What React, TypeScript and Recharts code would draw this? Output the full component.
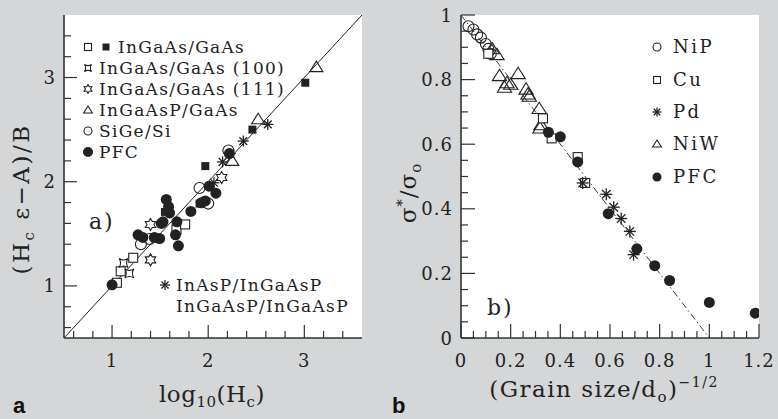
import React from "react";
import { ScatterChart, Scatter, XAxis, YAxis, CartesianGrid, ReferenceLine } from "recharts";

type Pt = [number, number];

// ---- panel a: (Hc eps - A)/B vs log10(Hc) ----
const inGaAsOpen: Pt[] = [[1.05, 1.03], [1.09, 1.14], [1.22, 1.27], [1.67, 1.54], [1.76, 1.59]];
const inGaAsFilled: Pt[] = [[1.55, 1.71], [1.91, 1.79], [1.97, 2.15], [2.46, 2.5], [3.01, 2.95]];
const inGaAs100: Pt[] = [[1.12, 1.22], [1.18, 1.12]];
const inGaAs111: Pt[] = [[1.4, 1.59], [1.4, 1.25], [2.14, 2.04]];
const inGaAsP: Pt[] = [[2.25, 2.2], [2.52, 2.6], [3.125, 3.1]];
const siGe: Pt[] = [[1.3, 1.4], [1.39, 1.45], [1.91, 1.94], [2.0, 1.79], [2.21, 2.3]];
const inAsP: Pt[] = [[2.06, 1.99], [2.15, 2.19], [2.23, 2.27], [2.365, 2.39], [2.62, 2.55]];
const pfcA: Pt[] = [
  [1.0, 1.01], [1.27, 1.49], [1.32, 1.465], [1.44, 1.465], [1.495, 1.455], [1.512, 1.6],
  [1.53, 1.615], [1.564, 1.83], [1.588, 1.76], [1.598, 1.7], [1.66, 1.49], [1.674, 1.615],
  [1.69, 1.385], [1.82, 1.715], [1.927, 1.797], [1.97, 1.816], [2.01, 1.957], [2.08, 1.89],
  [2.22, 2.27],
];
const domainA: [number, number] = [0.5, 3.6];
const ticksA = [0.6, 0.8, 1, 1.2, 1.4, 1.6, 1.8, 2, 2.2, 2.4, 2.6, 2.8, 3, 3.2, 3.4];
const majorA = [1, 2, 3];

// ---- panel b: sigma*/sigma0 vs (grain size/d0)^-1/2 ----
const niP: Pt[] = [[0.03, 0.965], [0.05, 0.955], [0.065, 0.94], [0.08, 0.93], [0.1, 0.91], [0.11, 0.895], [0.12, 0.88]];
const cu: Pt[] = [[0.11, 0.88], [0.33, 0.68], [0.365, 0.618], [0.47, 0.56], [0.5, 0.48]];
const pd: Pt[] = [[0.49, 0.48], [0.585, 0.445], [0.615, 0.405], [0.645, 0.37], [0.68, 0.33], [0.695, 0.258]];
const niW: Pt[] = [
  [0.125, 0.895], [0.145, 0.877], [0.155, 0.812], [0.23, 0.818], [0.175, 0.776], [0.185, 0.79],
  [0.2, 0.785], [0.262, 0.77], [0.27, 0.755], [0.275, 0.748], [0.315, 0.71], [0.318, 0.65], [0.322, 0.66],
];
const pfcB: Pt[] = [[0.352, 0.637], [0.4, 0.623], [0.47, 0.545], [0.593, 0.385], [0.708, 0.276], [0.78, 0.224], [0.84, 0.178], [1.0, 0.11], [1.185, 0.077]];
const domainBX: [number, number] = [0, 1.2];
const domainBY: [number, number] = [0, 1];
const ticksBX = [0, 0.05, 0.1, 0.15, 0.2, 0.25, 0.3, 0.35, 0.4, 0.45, 0.5, 0.55, 0.6, 0.65, 0.7, 0.75, 0.8, 0.85, 0.9, 0.95, 1, 1.05, 1.1, 1.15, 1.2];
const ticksBY = [0, 0.05, 0.1, 0.15, 0.2, 0.25, 0.3, 0.35, 0.4, 0.45, 0.5, 0.55, 0.6, 0.65, 0.7, 0.75, 0.8, 0.85, 0.9, 0.95, 1];
const majorBX = [0, 0.2, 0.4, 0.6, 0.8, 1, 1.2];
const majorBY = [0, 0.2, 0.4, 0.6, 0.8, 1];

const BG = "#d4d6d8";
const INK = "#222";
const SERIF = "'DejaVu Serif', serif";
const frame = { stroke: "#333", strokeWidth: 1.6 };

const toObj = (pts: Pt[]) => pts.map(([x, y]) => ({ x, y }));
const isMajor = (v: number, majors: number[]) => majors.some((m) => Math.abs(m - v) < 1e-6);

// marker glyphs
const openSquare = (cx: number, cy: number, s: number) => (
  <rect x={cx - s} y={cy - s} width={2 * s} height={2 * s} fill="#fff" stroke={INK} strokeWidth={1.1} />
);
const filledSquare = (cx: number, cy: number, s: number) => (
  <rect x={cx - s} y={cy - s} width={2 * s} height={2 * s} fill={INK} />
);
const openCircle = (cx: number, cy: number, r: number) => (
  <circle cx={cx} cy={cy} r={r} fill="none" stroke={INK} strokeWidth={1.1} />
);
const filledCircle = (cx: number, cy: number, r: number) => <circle cx={cx} cy={cy} r={r} fill={INK} />;
const triangle = (cx: number, cy: number, s: number) => (
  <polygon
    points={`${cx},${cy - s} ${cx + s * 1.1},${cy + s * 0.75} ${cx - s * 1.1},${cy + s * 0.75}`}
    fill="none" stroke={INK} strokeWidth={1.1}
  />
);
const hexagram = (cx: number, cy: number, R: number) => {
  const pts: string[] = [];
  for (let k = 0; k < 12; k++) {
    const a = ((-90 + k * 30) * Math.PI) / 180;
    const r = k % 2 === 0 ? R : R / Math.sqrt(3);
    pts.push(`${cx + r * Math.cos(a)},${cy + r * Math.sin(a)}`);
  }
  return <polygon points={pts.join(" ")} fill="#fff" stroke={INK} strokeWidth={1.1} />;
};
const concaveSquare = (cx: number, cy: number, s: number) => {
  const q = s * 0.35;
  const d = `M${cx - s},${cy - s} Q${cx},${cy - q} ${cx + s},${cy - s} Q${cx + q},${cy} ${cx + s},${cy + s} Q${cx},${cy + q} ${cx - s},${cy + s} Q${cx - q},${cy} ${cx - s},${cy - s} Z`;
  return <path d={d} fill="#fff" stroke={INK} strokeWidth={1.1} />;
};
const asterisk = (cx: number, cy: number, R: number) => {
  const lines = [0, 45, 90, 135].map((deg) => {
    const a = (deg * Math.PI) / 180;
    return (
      <line key={deg} x1={cx - R * Math.cos(a)} y1={cy - R * Math.sin(a)} x2={cx + R * Math.cos(a)} y2={cy + R * Math.sin(a)}
        stroke={INK} strokeWidth={1.3} />
    );
  });
  return <g>{lines}</g>;
};

const shapeOf = (fn: (cx: number, cy: number, s: number) => React.ReactElement, s: number) => (p: any) =>
  fn(p.cx, p.cy, s);

// ticks drawn inward from the frame; labels only on the outer bottom/left sides
const tickFor = (side: "bottom" | "top" | "left" | "right", majors: number[], majorLen: number, minorLen: number) => (p: any) => {
  const { x, y, payload } = p;
  const v = payload.value as number;
  const major = isMajor(v, majors);
  const len = major ? majorLen : minorLen;
  const st = { stroke: "#333", strokeWidth: 1.2 };
  if (side === "bottom")
    return (
      <g>
        <line x1={x} y1={y} x2={x} y2={y - len} {...st} />
        {major && (
          <text x={x} y={y + 29} textAnchor="middle" fontFamily={SERIF} fontSize={18} fill={INK} letterSpacing={1}>
            {String(v)}
          </text>
        )}
      </g>
    );
  if (side === "top") return <line x1={x} y1={y} x2={x} y2={y + len} {...st} />;
  if (side === "left")
    return (
      <g>
        <line x1={x} y1={y} x2={x + len} y2={y} {...st} />
        {major && (
          <text x={x - 8} y={y + 6.5} textAnchor="end" fontFamily={SERIF} fontSize={18} fill={INK} letterSpacing={1}>
            {String(v)}
          </text>
        )}
      </g>
    );
  return <line x1={x} y1={y} x2={x - len} y2={y} {...st} />;
};

const axisCommon = { tickSize: 0, tickMargin: 0, tickLine: false, axisLine: frame, interval: 0 as const, allowDataOverflow: true };

function PanelA() {
  const series: { pts: Pt[]; shape: (p: any) => React.ReactElement }[] = [
    { pts: inGaAsOpen, shape: shapeOf(openSquare, 4.5) },
    { pts: inGaAs100, shape: shapeOf(concaveSquare, 4.5) },
    { pts: inGaAs111, shape: shapeOf(hexagram, 6) },
    { pts: inGaAsP, shape: shapeOf(triangle, 6) },
    { pts: siGe, shape: shapeOf(openCircle, 5.5) },
    { pts: inAsP, shape: shapeOf(asterisk, 5.5) },
    { pts: pfcA, shape: shapeOf(filledCircle, 5.5) },
    { pts: inGaAsFilled, shape: shapeOf(filledSquare, 4) },
  ];
  return (
    <ScatterChart width={390} height={419} margin={{ top: 15, right: 28, bottom: 0, left: 0 }}>
      <CartesianGrid xAxisId="b" yAxisId="l" fill="#fff" horizontal={false} vertical={false} />
      <XAxis xAxisId="b" type="number" dataKey="x" domain={domainA} ticks={ticksA} height={81} {...axisCommon}
        tick={tickFor("bottom", majorA, 13, 7)} />
      <XAxis xAxisId="t" orientation="top" type="number" dataKey="x" domain={domainA} ticks={ticksA} height={0} {...axisCommon}
        tick={tickFor("top", majorA, 13, 7)} />
      <YAxis yAxisId="l" type="number" dataKey="y" domain={domainA} ticks={ticksA} width={64} {...axisCommon}
        tick={tickFor("left", majorA, 13, 7)} />
      <YAxis yAxisId="r" orientation="right" type="number" dataKey="y" domain={domainA} ticks={ticksA} width={0} {...axisCommon}
        tick={tickFor("right", majorA, 13, 7)} />
      <ReferenceLine xAxisId="b" yAxisId="l" segment={[{ x: 0.5, y: 0.5 }, { x: 3.6, y: 3.6 }]} stroke={INK} strokeWidth={1} />
      {series.map((s, i) => (
        <Scatter key={i} xAxisId="b" yAxisId="l" data={toObj(s.pts)} shape={s.shape} isAnimationActive={false} />
      ))}
    </ScatterChart>
  );
}

function PanelB() {
  const series: { pts: Pt[]; shape: (p: any) => React.ReactElement }[] = [
    { pts: niP, shape: shapeOf(openCircle, 5.5) },
    { pts: niW, shape: shapeOf(triangle, 6.5) },
    { pts: cu, shape: shapeOf(openSquare, 4.5) },
    { pts: pd, shape: shapeOf(asterisk, 6) },
    { pts: pfcB, shape: shapeOf(filledCircle, 5.5) },
  ];
  return (
    <ScatterChart width={388} height={419} margin={{ top: 15, right: 19, bottom: 0, left: 0 }}>
      <CartesianGrid xAxisId="b" yAxisId="l" fill="#fff" horizontal={false} vertical={false} />
      <XAxis xAxisId="b" type="number" dataKey="x" domain={domainBX} ticks={ticksBX} height={81} {...axisCommon}
        tick={tickFor("bottom", majorBX, 14, 7)} />
      <XAxis xAxisId="t" orientation="top" type="number" dataKey="x" domain={domainBX} ticks={ticksBX} height={0} {...axisCommon}
        tick={tickFor("top", majorBX, 14, 7)} />
      <YAxis yAxisId="l" type="number" dataKey="y" domain={domainBY} ticks={ticksBY} width={71} {...axisCommon}
        tick={tickFor("left", majorBY, 14, 7)} />
      <YAxis yAxisId="r" orientation="right" type="number" dataKey="y" domain={domainBY} ticks={ticksBY} width={0} {...axisCommon}
        tick={tickFor("right", majorBY, 14, 7)} />
      <ReferenceLine xAxisId="b" yAxisId="l" segment={[{ x: 0, y: 1 }, { x: 1, y: 0 }]} stroke={INK} strokeWidth={0.9}
        strokeDasharray="7 3 1.5 3" />
      {series.map((s, i) => (
        <Scatter key={i} xAxisId="b" yAxisId="l" data={toObj(s.pts)} shape={s.shape} isAnimationActive={false} />
      ))}
    </ScatterChart>
  );
}

// legends, axis titles and panel letters
function Overlay() {
  const lg = { fontFamily: SERIF, fontSize: 17, fill: INK, letterSpacing: 1.3 };
  const lgB = { fontFamily: SERIF, fontSize: 18, fill: INK, letterSpacing: 2.5 };
  const title = { fontFamily: SERIF, fontSize: 23, fill: INK };
  const legendA = [
    "InGaAs/GaAs (100)",
    "InGaAs/GaAs (111)",
    "InGaAsP/GaAs",
    "SiGe/Si",
    "PFC",
  ];
  const legendB = ["NiP", "Cu", "Pd", "NiW", "PFC"];
  const symA = [
    (y: number) => concaveSquare(88, y, 3.5),
    (y: number) => hexagram(88, y, 4.5),
    (y: number) => triangle(88, y, 4),
    (y: number) => openCircle(88, y, 4),
    (y: number) => filledCircle(88, y, 5),
  ];
  const symB = [
    (y: number) => openCircle(657, y, 4),
    (y: number) => openSquare(657, y, 3.5),
    (y: number) => asterisk(657, y, 4.5),
    (y: number) => triangle(657, y, 4),
    (y: number) => filledCircle(657, y, 4.5),
  ];
  const yB = [47, 80, 112, 144, 177];
  return (
    <svg width={778} height={419} style={{ position: "absolute", left: 0, top: 0, pointerEvents: "none" }}>
      {openSquare(88, 47, 3.5)}
      {filledSquare(106, 47, 3.5)}
      <text x={118} y={53} {...lg}>InGaAs/GaAs</text>
      {legendA.map((t, i) => (
        <g key={t}>
          {symA[i](68 + i * 21)}
          <text x={99} y={74 + i * 21} {...lg}>{t}</text>
        </g>
      ))}
      {asterisk(165, 285, 5)}
      <text x={176} y={291} {...lg}>InAsP/InGaAsP</text>
      <text x={176} y={312} {...lg}>InGaAsP/InGaAsP</text>
      <text x={89} y={229} fontFamily={SERIF} fontSize={22} fill={INK} letterSpacing={2}>a)</text>

      {legendB.map((t, i) => (
        <g key={t}>
          {symB[i](yB[i])}
          <text x={673} y={yB[i] + 6} {...lgB}>{t}</text>
        </g>
      ))}
      <text x={487} y={315} fontFamily={SERIF} fontSize={22} fill={INK} letterSpacing={2}>b)</text>

      <text x={212} y={402} textAnchor="middle" {...title} letterSpacing={0.5}>
        log<tspan fontSize={15} dy={5}>10</tspan>
        <tspan dy={-5}>(H</tspan>
        <tspan fontSize={15} dy={5}>c</tspan>
        <tspan dy={-5}>)</tspan>
      </text>
      <text transform="translate(29,199) rotate(-90)" textAnchor="middle" {...title} letterSpacing={2.5}>
        (H<tspan fontSize={15} dy={5}>c</tspan>
        <tspan dy={-5}> ε−A)/B</tspan>
      </text>
      <text x={604} y={397} textAnchor="middle" {...title} letterSpacing={1.5}>
        (Grain  size/d<tspan fontSize={15} dy={5}>o</tspan>
        <tspan dy={-5}>)</tspan>
        <tspan fontSize={14} dy={-10}>−1/2</tspan>
      </text>
      <text transform="translate(416,193) rotate(-90)" textAnchor="middle" {...title} letterSpacing={1}>
        σ<tspan fontSize={15} dy={-9}>*</tspan>
        <tspan dy={9}>/σ</tspan>
        <tspan fontSize={15} dy={5}>o</tspan>
      </text>

      <text x={13} y={413} fontFamily="'Liberation Sans', Arial, sans-serif" fontWeight="bold" fontSize={22} fill="#111">a</text>
      <text x={392} y={413} fontFamily="'Liberation Sans', Arial, sans-serif" fontWeight="bold" fontSize={22} fill="#111">b</text>
    </svg>
  );
}

export default function App() {
  return (
    <div style={{ position: "absolute", left: 0, top: 0, width: 778, height: 419, background: BG, overflow: "hidden" }}>
      <div style={{ position: "absolute", left: 0, top: 0 }}>
        <PanelA />
      </div>
      <div style={{ position: "absolute", left: 390, top: 0 }}>
        <PanelB />
      </div>
      <Overlay />
    </div>
  );
}
